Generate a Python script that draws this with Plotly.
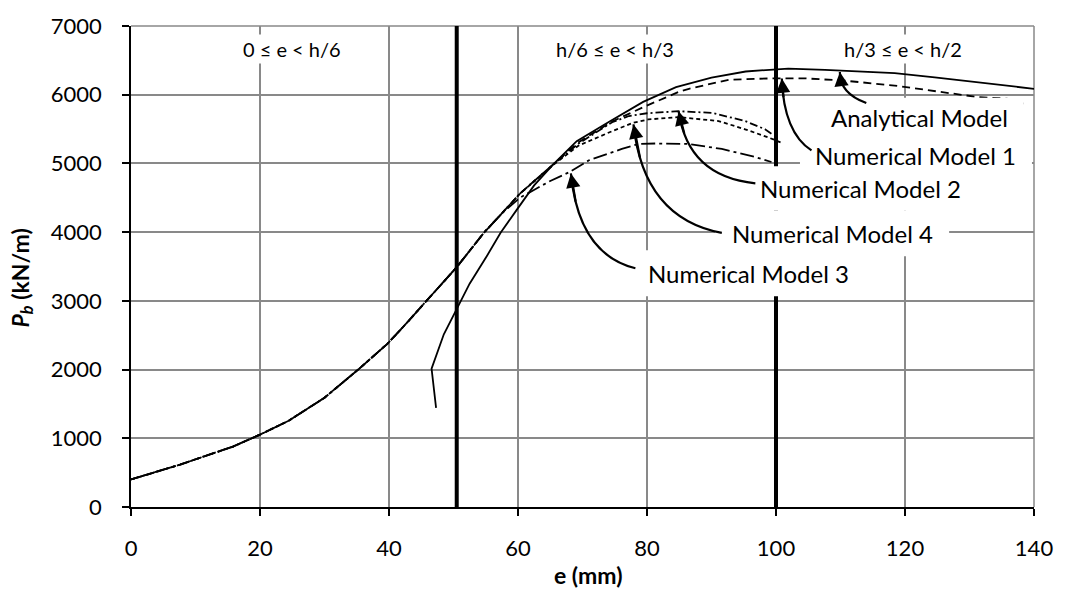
import plotly.graph_objects as go

# ---------------- data ----------------
e_common = [0, 7.6, 15.8, 20, 24.4, 30, 35.4, 39.7, 41.8, 44.2, 46.2, 50.4, 52.1, 54.7, 57.6]
p_common = [400, 617, 879, 1053, 1253, 1590, 2014, 2371, 2580, 2830, 3040, 3480, 3680, 3990, 4283]

e_m1 = e_common + [60.3, 65.5, 69.4, 74.6, 79.7, 84.9, 86.5, 92.7, 99.4, 104.5, 110.7, 118.4, 125, 131.2, 135.8, 138.4]
p_m1 = p_common + [4561, 4990, 5310, 5610, 5831, 6040, 6086, 6219, 6238, 6238, 6204, 6133, 6050, 5967, 5943, 5871]

e_m2 = e_common + [60.3, 65.5, 69.4, 74.6, 77.2, 80.0, 84.9, 90.1, 95.2, 98.3, 99.5]
p_m2 = p_common + [4561, 4990, 5290, 5600, 5690, 5730, 5760, 5736, 5617, 5497, 5420]

e_m4 = e_common + [60.3, 65.5, 69.4, 74.6, 77.9, 80.2, 84.9, 91.1, 95.2, 98.8, 100.9]
p_m4 = p_common + [4561, 4980, 5260, 5470, 5593, 5640, 5674, 5617, 5497, 5379, 5300]

e_m3 = e_common + [60.3, 62.2, 65.0, 67.9, 71.0, 76.1, 78.7, 81.3, 86.4, 91.6, 96.8, 99.3]
p_m3 = p_common + [4500, 4600, 4745, 4870, 5046, 5211, 5283, 5290, 5283, 5211, 5093, 5021]

e_an = [47.3, 46.6, 48.5, 50.3, 52.5, 55.2, 57.3, 59.8, 62.5, 65.5, 69.1, 74.2, 79.4, 84.5, 90.0,
        95.3, 101.9, 107.6, 113.8, 118.4, 124.6, 132, 140]
p_an = [1443, 2014, 2514, 2848, 3250, 3657, 3990, 4324, 4680, 4990, 5324, 5610, 5896, 6110, 6250,
        6338, 6381, 6361, 6338, 6314, 6252, 6170, 6086]

x_ticks = [0, 20, 40, 60, 80, 100, 120, 140]
y_ticks = [0, 1000, 2000, 3000, 4000, 5000, 6000, 7000]

zone_bounds = [50.5, 100]
zone_labels = ["0 ≤ e < h/6", "h/6 ≤ e < h/3", "h/3 ≤ e < h/2"]
zone_label_x = [24.9, 75.1, 119.7]
zone_label_y = 6660

# label text, label centre (x, y), arrow tail, arrow mid, arrow tip
labels = ["Analytical Model", "Numerical Model 1", "Numerical Model 2", "Numerical Model 4", "Numerical Model 3"]
label_x = [122.3, 121.7, 113.1, 108.7, 95.8]
label_y = [5664, 5117, 4640, 3983, 3403]
label_halfw = [104, 116, 116, 117, 117]
label_halfh = [20, 22, 22, 23, 23]
arrow_tail = [(114.0, 5879), (105.5, 5189), (96.8, 4711), (91.6, 3989), (78.2, 3474)]
arrow_mid = [(110.9, 6064), (102.2, 5581), (88.6, 5021), (82.1, 4493), (71.3, 3921)]
arrow_tip = [(109.9, 6331), (100.9, 6236), (84.9, 5760), (77.9, 5569), (68.2, 4854)]

FONT = "Lato, 'Open Sans', sans-serif"
GRID = "#898989"

fig = go.Figure()

def add(e, p, dash):
    fig.add_trace(go.Scatter(x=e, y=p, mode="lines", showlegend=False,
                             line=dict(color="black", width=1.8, dash=dash)))

add(e_m3, p_m3, "14px,4px,3px,4px")
add(e_m4, p_m4, "4px,3px")
add(e_m2, p_m2, "8px,3px,2px,3px")
add(e_m1, p_m1, "8px,5px")
add(e_an, p_an, "solid")

shapes = []
shapes.append(dict(type="line", xref="paper", yref="paper", x0=0, x1=1, y0=1, y1=1,
                   line=dict(color=GRID, width=1.5), layer="below"))
shapes.append(dict(type="line", xref="paper", yref="paper", x0=1, x1=1, y0=0, y1=1,
                   line=dict(color=GRID, width=1.5), layer="below"))
for b in zone_bounds:
    shapes.append(dict(type="line", xref="x", yref="paper", x0=b, x1=b, y0=0, y1=1,
                       line=dict(color="black", width=4), layer="above"))
for lx, ly, hw, hh in zip(label_x, label_y, label_halfw, label_halfh):
    shapes.append(dict(type="rect", xref="x", yref="y", xsizemode="pixel", ysizemode="pixel",
                       xanchor=lx, yanchor=ly, x0=-hw, x1=hw, y0=-hh, y1=hh,
                       fillcolor="white", line=dict(width=0), layer="above"))

annotations = []
def bez(p0, c, p2, t):
    return ((1 - t) ** 2 * p0[0] + 2 * (1 - t) * t * c[0] + t ** 2 * p2[0],
            (1 - t) ** 2 * p0[1] + 2 * (1 - t) * t * c[1] + t ** 2 * p2[1])

for tail, mid, tip in zip(arrow_tail, arrow_mid, arrow_tip):
    c = (2 * mid[0] - 0.5 * (tail[0] + tip[0]), 2 * mid[1] - 0.5 * (tail[1] + tip[1]))
    path = f"M {tail[0]},{tail[1]} Q {c[0]},{c[1]} {tip[0]},{tip[1]}"
    shapes.append(dict(type="path", xref="x", yref="y", path=path,
                       line=dict(color="black", width=2.2), layer="above"))
    near = bez(tail, c, tip, 0.8)
    annotations.append(dict(x=tip[0], y=tip[1], xref="x", yref="y", ax=near[0], ay=near[1],
                            axref="x", ayref="y", text="", showarrow=True, arrowhead=2,
                            arrowsize=1.3, arrowwidth=2.2, arrowcolor="black", standoff=0))

for txt, lx, ly in zip(labels, label_x, label_y):
    annotations.append(dict(x=lx, y=ly, xref="x", yref="y", text=txt, showarrow=False,
                            font=dict(family=FONT, size=24, color="black")))

for txt, zx in zip(zone_labels, zone_label_x):
    annotations.append(dict(x=zx, y=zone_label_y, xref="x", yref="y", text=txt, showarrow=False,
                            bgcolor="white", borderpad=2,
                            font=dict(family=FONT, size=20, color="black")))

# axis titles
annotations.append(dict(x=0.5, y=0, xref="paper", yref="paper", xshift=6, yshift=-68,
                        xanchor="center", yanchor="middle", showarrow=False,
                        text="<b>e (mm)</b>", font=dict(family=FONT, size=23, color="black")))
annotations.append(dict(x=0, y=0.5, xref="paper", yref="paper", xshift=-110, yshift=-12,
                        xanchor="center", yanchor="middle", showarrow=False, textangle=-90,
                        text="<b><i>P</i><sub><i>b</i></sub> (kN/m)</b>",
                        font=dict(family=FONT, size=23, color="black")))

fig.update_layout(
    width=1065, height=610,
    margin=dict(l=131, r=29, t=17, b=103),
    paper_bgcolor="white", plot_bgcolor="white",
    font=dict(family=FONT, size=22, color="black"),
    shapes=shapes, annotations=annotations,
    xaxis=dict(range=[0, 140], tickvals=x_ticks, ticktext=[str(v) for v in x_ticks],
               showgrid=True, gridcolor=GRID, gridwidth=1.5, zeroline=False,
               showline=True, linecolor="black", linewidth=1.8,
               ticks="outside", ticklen=7, tickwidth=1.5, tickcolor="black",
               ticklabelstandoff=14),
    yaxis=dict(range=[0, 7000], tickvals=y_ticks, ticktext=[str(v) for v in y_ticks],
               showgrid=True, gridcolor=GRID, gridwidth=1.5, zeroline=False,
               showline=True, linecolor="black", linewidth=1.8,
               ticks="outside", ticklen=7, tickwidth=1.5, tickcolor="black",
               ticklabelstandoff=16),
)

fig.write_html("out.html", config={"displayModeBar": False},
               post_script="document.body.style.margin='0';")
